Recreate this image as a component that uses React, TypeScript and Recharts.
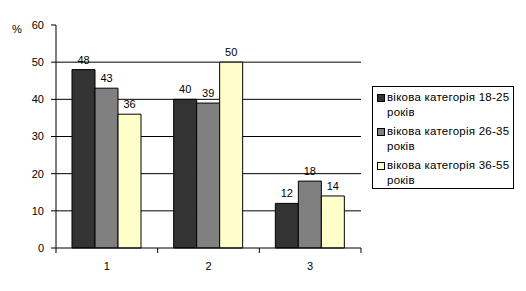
import React from 'react';
import { BarChart, Bar, XAxis, YAxis, CartesianGrid, LabelList, Label } from 'recharts';

const categories = ['1', '2', '3'];
const age18to25 = [48, 40, 12];
const age26to35 = [43, 39, 18];
const age36to55 = [36, 50, 14];
const yTicks = [0, 10, 20, 30, 40, 50, 60];
const gridValues = [10, 20, 30, 40, 50];

const seriesNames = ['вікова категорія 18-25 років', 'вікова категорія 26-35 років', 'вікова категорія 36-55 років'];
const colors = ['#333333', '#808080', '#FFFFCC'];

const data = categories.map((c, i) => ({
  cat: c,
  a: age18to25[i],
  b: age26to35[i],
  c: age36to55[i],
}));

const FONT = '"Liberation Sans", Arial, sans-serif';
const CHART_W = 526;
const CHART_H = 291;
const MARGIN = { top: 25, right: 165, bottom: 13, left: 0 };
const Y_AXIS_W = 56;
const PLOT_W = CHART_W - MARGIN.left - MARGIN.right - Y_AXIS_W;
const X_TICK_SIZE = 5;
const X_TICK_MARGIN = 9;

const XTick = (props: any) => {
  const { x, y, payload, index, visibleTicksCount } = props;
  const band = PLOT_W / (visibleTicksCount || categories.length);
  const lineTop = y - X_TICK_MARGIN - X_TICK_SIZE;
  const lineBottom = y - X_TICK_MARGIN;
  return (
    <g>
      <line x1={x - band / 2} x2={x - band / 2} y1={lineTop} y2={lineBottom} stroke="#000" />
      {index === visibleTicksCount - 1 && (
        <line x1={x + band / 2} x2={x + band / 2} y1={lineTop} y2={lineBottom} stroke="#000" />
      )}
      <text x={x} y={y} dy="0.71em" textAnchor="middle" fontSize={11} fontFamily={FONT} fill="#000">
        {payload.value}
      </text>
    </g>
  );
};

const LegendBox = () => (
  <div
    style={{
      position: 'absolute',
      left: 372,
      top: 86,
      border: '1px solid #000',
      width: 140,
      height: 101,
      fontFamily: FONT,
      fontSize: 11.5,
      letterSpacing: 0.25,
      color: '#000',
      boxSizing: 'content-box',
      background: '#fff',
    }}
  >
    {seriesNames.map((name, i) => {
      const parts = name.split(' ');
      const last = parts.pop();
      return (
        <div key={i} style={{ position: 'relative', height: 34, paddingLeft: 14, paddingTop: 3, boxSizing: 'border-box', lineHeight: '15px' }}>
          <span
            style={{
              position: 'absolute',
              left: 4,
              top: 7,
              width: 6,
              height: 6,
              background: colors[i],
              border: '1px solid #000',
            }}
          />
          <div style={{ whiteSpace: 'nowrap' }}>{parts.join(' ')}</div>
          <div>{last}</div>
        </div>
      );
    })}
  </div>
);

export default function App() {
  return (
    <div style={{ position: 'absolute', left: 0, top: 0, width: CHART_W, height: CHART_H, background: '#fff' }}>
      <BarChart
        width={CHART_W}
        height={CHART_H}
        data={data}
        margin={MARGIN}
        barGap={0}
        barSize={23}
      >
        <CartesianGrid horizontal vertical={false} stroke="#000" horizontalValues={gridValues} />
        <XAxis
          dataKey="cat"
          tickLine={false}
          axisLine={{ stroke: '#000' }}
          tick={<XTick />}
          tickSize={X_TICK_SIZE}
          tickMargin={X_TICK_MARGIN}
          height={30}
        />
        <YAxis
          width={Y_AXIS_W}
          domain={[0, 60]}
          ticks={yTicks}
          tickLine={{ stroke: '#000' }}
          tickSize={5}
          axisLine={{ stroke: '#000' }}
          tick={{ fill: '#000', fontSize: 11, fontFamily: FONT }}
          tickMargin={7}
        >
          <Label
            content={() => (
              <text x={12} y={33} fontSize={11} fontFamily={FONT} fill="#000">
                %
              </text>
            )}
          />
        </YAxis>
        {['a', 'b', 'c'].map((k, i) => (
          <Bar key={k} dataKey={k} name={seriesNames[i]} fill={colors[i]} stroke="#000" strokeWidth={1} isAnimationActive={false}>
            <LabelList dataKey={k} position="top" offset={6} fill="#000" fontSize={11} fontFamily={FONT} />
          </Bar>
        ))}
      </BarChart>
      <LegendBox />
    </div>
  );
}
